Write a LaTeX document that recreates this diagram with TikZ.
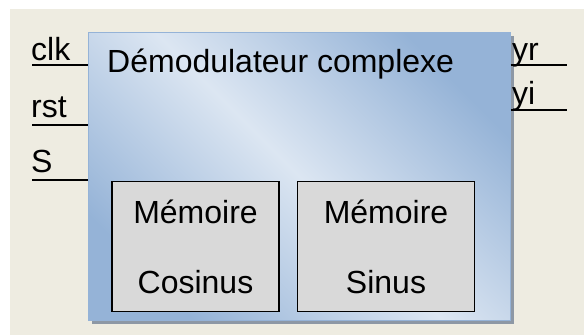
\documentclass[tikz,border=0pt]{standalone}
\usepackage{fontspec}
\setmainfont{Liberation Sans}
\usetikzlibrary{positioning,shadows}
\definecolor{bgtan}{HTML}{EEECE1}
\definecolor{blueDk}{HTML}{95B3D7}
\definecolor{blueLt}{HTML}{DCE6F2}
\definecolor{memgray}{HTML}{D9D9D9}
\definecolor{shadowgray}{HTML}{8D98A5}
\tikzset{
  block/.style ={draw=blueDk, line width=1pt, top color=blueDk, bottom color=blueDk,
                 middle color=blueLt, shading angle=-45, inner sep=0pt,
                 general shadow={fill=shadowgray, shadow xshift=3.5pt, shadow yshift=-3.5pt},
                 minimum width=422pt, minimum height=288pt},
  mem/.style   ={draw=black, line width=1.5pt, fill=memgray, inner sep=0pt,
                 minimum height=130pt, align=center, font=\fontsize{32}{70}\selectfont},
  lbl/.style   ={anchor=base west, inner sep=0pt, font=\fontsize{32}{36}\selectfont},
  wire/.style  ={line width=1.5pt},
}

\begin{document}
\begin{tikzpicture}[x=1pt, y=-1pt]
  \useasboundingbox (0,0) rectangle (584,335);
  \fill[bgtan] (10,9) rectangle (584,335);

  \node[block] (dem) at (299,176) {};
  \node[lbl] (title) at (107,72.5) {Démodulateur complexe};

  % two memories
  \node[mem, minimum width=167pt] (cos) at (195.5,246.5) {Mémoire\\Cosinus};
  \node[mem, minimum width=177pt, right=17pt of cos] (sin) {Mémoire\\Sinus};

  % inputs
  \node[lbl] (clk) at (31,60.5) {clk};
  \node[lbl] (rst) at (31,117.5) {rst};
  \node[lbl] (s)   at (31,172)  {S};
  \coordinate (clkw) at (32,65);
  \coordinate (rstw) at (32,125);
  \coordinate (sw)   at (32,180);
  \draw[wire] (clkw) -- (clkw -| dem.west);
  \draw[wire] (rstw) -- (rstw -| dem.west);
  \draw[wire] (sw)   -- (sw -| dem.west);

  % outputs
  \node[lbl] (yr) at (512,60.5) {yr};
  \node[lbl] (yi) at (512,104)  {yi};
  \coordinate (yrw) at (567,65);
  \coordinate (yiw) at (567,110);
  \draw[wire] (yrw -| dem.east) -- (yrw);
  \draw[wire] (yiw -| dem.east) -- (yiw);
\end{tikzpicture}
\end{document}
